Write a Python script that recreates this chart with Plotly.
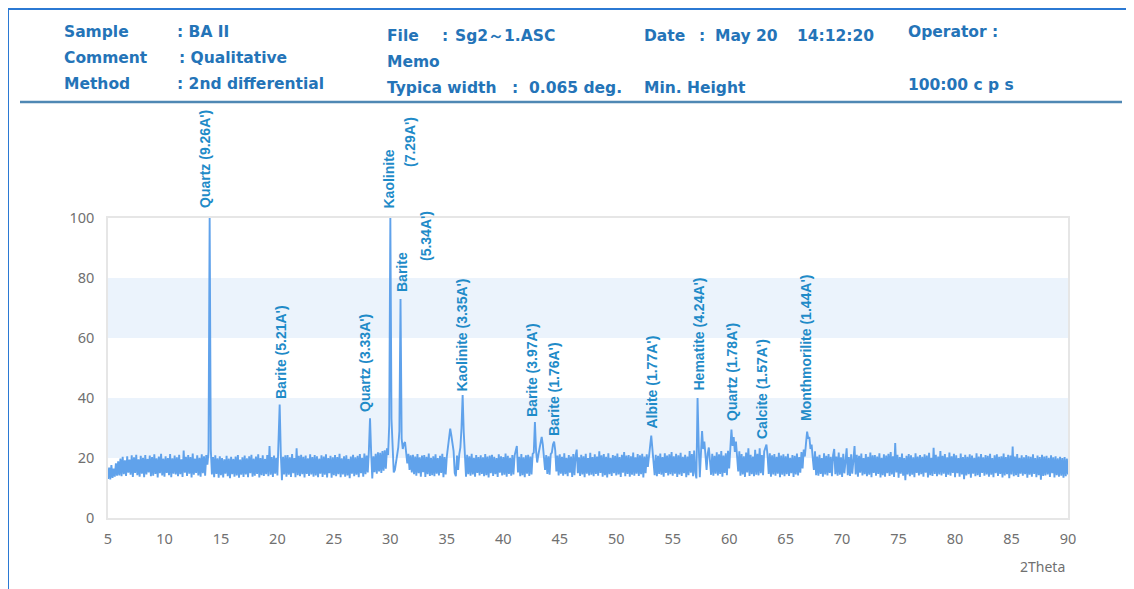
import plotly.graph_objects as go

# ---------------- data ----------------
two_theta_start = 5.0
two_theta_step = 0.1

intensity = [
    # 5
    13.0, 16.8, 12.9, 17.6, 13.4, 16.5, 13.8, 18.2, 14.1, 18.9,
    # 6
    14.2, 19.8, 13.9, 20.4, 14.6, 19.2, 14.0, 20.6, 15.1, 19.5,
    # 7
    14.4, 20.9, 13.7, 20.2, 15.0, 21.1, 14.3, 19.6, 13.8, 20.7,
    # 8
    14.8, 20.1, 13.6, 21.0, 14.5, 19.7, 15.2, 20.8, 13.9, 20.3,
    # 9
    14.1, 21.2, 14.7, 19.9, 13.5, 20.5, 14.9, 21.4, 14.2, 19.8,
    # 10
    13.8, 20.6, 15.0, 20.0, 14.3, 21.3, 13.6, 19.9, 14.8, 20.8,
    # 11
    14.5, 20.2, 13.9, 21.1, 14.6, 19.6, 13.7, 22.5, 15.1, 20.4,
    # 12
    14.0, 21.0, 14.8, 20.3, 13.5, 21.5, 14.4, 19.8, 15.0, 20.9,
    # 13
    14.2, 20.1, 13.8, 21.2, 14.9, 20.6, 14.1, 21.0, 17.8, 22.0,
    # 14
    100.0, 23.0, 14.5, 20.3, 13.6, 20.9, 14.7, 19.9, 13.4, 20.6,
    # 15
    14.3, 20.0, 13.5, 19.6, 14.8, 20.7, 13.9, 19.8, 13.3, 20.4,
    # 16
    14.6, 19.7, 13.8, 20.5, 14.2, 21.0, 13.4, 19.5, 14.4, 20.2,
    # 17
    13.7, 20.8, 14.5, 19.9, 13.6, 20.6, 14.9, 21.1, 13.8, 19.8,
    # 18
    14.1, 20.5, 14.7, 21.2, 13.5, 20.0, 14.3, 20.9, 14.0, 19.7,
    # 19
    14.6, 21.0, 13.9, 24.0, 14.4, 20.3, 13.7, 20.8, 14.8, 20.1,
    # 20
    14.2, 24.5, 37.8, 21.5, 12.6, 20.4, 14.5, 20.9, 13.8, 21.0,
    # 21
    14.4, 20.2, 13.7, 21.3, 14.9, 20.0, 13.6, 23.2, 14.3, 20.7,
    # 22
    13.9, 21.1, 14.6, 20.4, 13.5, 20.8, 14.7, 19.9, 14.0, 21.2,
    # 23
    14.5, 20.3, 13.8, 21.0, 14.2, 20.6, 13.6, 19.8, 14.8, 20.9,
    # 24
    13.7, 20.5, 14.4, 21.2, 13.5, 20.0, 14.9, 20.7, 13.4, 20.2,
    # 25
    14.3, 21.0, 13.9, 20.3, 14.6, 21.4, 13.6, 19.9, 14.5, 20.6,
    # 26
    13.8, 20.9, 14.2, 19.7, 13.3, 20.5, 14.8, 21.1, 13.9, 20.2,
    # 27
    14.4, 20.7, 13.6, 21.3, 14.9, 20.1, 13.8, 21.5, 14.6, 20.8,
    # 28
    15.2, 22.5, 33.2, 21.8, 13.2, 20.6, 15.3, 21.4, 14.8, 21.9,
    # 29
    15.5, 21.7, 15.0, 22.3, 15.8, 22.6, 16.4, 23.2, 21.0, 31.0,
    # 30
    100.0, 33.0, 22.5, 15.2, 16.0, 19.5, 21.0, 23.5, 29.0, 73.0,
    # 31
    26.5, 23.0, 24.8, 25.3, 21.5, 18.2, 21.4, 16.0, 20.9, 15.2,
    # 32
    21.1, 14.6, 20.5, 14.1, 21.3, 14.9, 20.2, 13.8, 20.8, 15.3,
    # 33
    21.0, 13.7, 20.4, 14.6, 21.5, 14.0, 20.1, 14.3, 20.6, 13.9,
    # 34
    21.2, 14.8, 20.0, 14.2, 20.7, 15.0, 21.4, 13.6, 20.3, 14.5,
    # 35
    20.5, 23.2, 26.8, 29.8, 27.5, 25.2, 22.3, 15.0, 13.9, 20.8,
    # 36
    16.0, 21.2, 23.5, 30.0, 41.0, 28.5, 19.0, 13.8, 21.1, 14.6,
    # 37
    20.6, 14.1, 21.4, 14.5, 20.1, 13.8, 21.0, 15.0, 20.3, 14.2,
    # 38
    20.9, 14.7, 20.2, 13.9, 21.3, 14.3, 20.5, 13.5, 20.8, 14.9,
    # 39
    21.1, 14.0, 20.4, 14.6, 20.0, 13.7, 21.2, 15.1, 20.6, 14.2,
    # 40
    20.3, 14.4, 21.5, 13.8, 20.7, 14.7, 20.1, 14.1, 21.0, 14.5,
    # 41
    20.8, 23.0, 24.0, 15.2, 20.4, 13.9, 21.3, 14.3, 20.2, 13.6,
    # 42
    20.9, 14.8, 21.1, 14.0, 20.5, 14.5, 21.4, 21.8, 32.0, 22.5,
    # 43
    18.5, 21.0, 23.5, 26.0, 27.0, 24.5, 21.2, 16.0, 21.0, 14.7,
    # 44
    20.6, 14.4, 21.3, 21.8, 24.5, 25.5, 22.5, 15.5, 20.8, 14.2,
    # 45
    21.2, 14.8, 20.4, 14.1, 21.6, 14.6, 20.1, 13.9, 21.0, 15.1,
    # 46
    20.5, 13.7, 21.3, 14.3, 20.8, 22.8, 14.9, 20.2, 14.0, 21.1,
    # 47
    14.5, 20.6, 13.6, 21.4, 14.8, 20.0, 14.2, 21.7, 14.4, 20.3,
    # 48
    13.9, 21.2, 14.7, 20.5, 14.1, 22.2, 15.0, 20.9, 13.8, 21.3,
    # 49
    14.3, 20.4, 13.5, 21.6, 14.6, 20.1, 14.0, 21.0, 14.9, 20.7,
    # 50
    14.2, 21.5, 14.5, 20.3, 13.7, 21.1, 15.1, 22.0, 13.9, 20.8,
    # 51
    14.7, 21.0, 13.8, 20.6, 14.4, 21.8, 14.1, 20.2, 14.8, 21.3,
    # 52
    14.0, 20.9, 14.6, 21.4, 13.5, 20.5, 14.9, 21.2, 17.0, 21.5,
    # 53
    24.0, 27.5, 23.0, 17.0, 14.3, 21.1, 13.9, 20.7, 14.7, 21.5,
    # 54
    14.4, 20.3, 13.8, 21.6, 15.0, 20.8, 14.2, 21.2, 14.6, 22.0,
    # 55
    14.1, 20.6, 14.8, 21.4, 13.7, 20.9, 14.5, 21.7, 14.0, 20.4,
    # 56
    14.9, 21.1, 13.6, 20.5, 14.3, 22.3, 15.1, 21.3, 13.9, 22.5,
    # 57
    15.0, 13.2, 40.0, 24.5, 13.6, 21.5, 29.0, 23.0, 25.5, 21.0,
    # 58
    16.0, 21.5, 23.5, 19.0, 14.4, 21.4, 14.1, 20.7, 14.8, 21.9,
    # 59
    14.2, 21.2, 14.7, 22.3, 13.8, 20.8, 15.0, 21.6, 14.3, 22.4,
    # 60
    16.5, 23.0, 29.5, 24.0, 27.0, 22.0, 25.5, 20.5, 15.5, 22.2,
    # 61
    14.1, 21.3, 14.5, 20.6, 13.7, 21.8, 15.2, 23.2, 14.0, 21.1,
    # 62
    14.6, 20.5, 13.9, 22.7, 14.4, 21.4, 14.2, 23.2, 14.9, 21.0,
    # 63
    14.3, 22.2, 23.8, 24.5, 20.8, 14.7, 21.6, 13.8, 20.9, 14.5,
    # 64
    21.3, 14.1, 20.4, 14.8, 21.7, 13.6, 20.8, 14.4, 21.2, 13.9,
    # 65
    20.6, 14.6, 21.4, 14.0, 20.1, 14.9, 21.0, 13.7, 20.7, 14.5,
    # 66
    21.5, 14.2, 20.3, 15.1, 22.0, 16.5, 22.8, 20.5, 24.8, 28.8,
    # 67
    26.5, 27.0, 23.0, 24.5, 20.0, 16.0, 22.2, 14.3, 20.5, 14.1,
    # 68
    21.1, 14.7, 20.0, 13.8, 21.6, 14.5, 20.7, 14.2, 21.3, 15.0,
    # 69
    20.4, 13.9, 21.0, 23.0, 14.6, 20.5, 14.1, 21.8, 14.4, 20.2,
    # 70
    13.7, 21.4, 14.9, 20.8, 23.2, 14.3, 20.3, 14.0, 21.2, 14.8,
    # 71
    20.6, 24.0, 14.5, 21.1, 13.8, 20.7, 15.1, 21.5, 14.2, 20.0,
    # 72
    14.6, 21.3, 13.9, 20.4, 14.4, 21.8, 13.6, 20.9, 15.0, 21.0,
    # 73
    14.1, 20.5, 14.7, 21.6, 13.5, 20.1, 14.3, 21.2, 13.8, 20.8,
    # 74
    14.9, 21.4, 14.0, 22.0, 14.5, 20.6, 13.7, 25.0, 15.2, 21.1,
    # 75
    13.4, 20.3, 14.8, 21.5, 14.1, 20.0, 12.6, 20.7, 14.5, 21.3,
    # 76
    13.9, 20.9, 14.4, 20.2, 13.6, 21.6, 15.0, 20.5, 14.2, 21.0,
    # 77
    14.6, 20.4, 13.8, 21.2, 15.1, 20.8, 13.5, 21.7, 14.3, 20.1,
    # 78
    14.0, 23.4, 14.7, 21.1, 13.9, 20.5, 14.5, 22.3, 14.2, 20.7,
    # 79
    14.8, 21.3, 13.7, 20.2, 14.4, 21.8, 14.1, 20.6, 15.0, 21.4,
    # 80
    13.6, 20.9, 14.9, 20.0, 13.8, 21.5, 14.5, 20.3, 12.9, 21.1,
    # 81
    14.2, 20.4, 14.6, 21.2, 13.4, 20.8, 14.8, 20.1, 13.9, 21.6,
    # 82
    14.3, 20.5, 13.7, 21.3, 15.0, 20.2, 14.1, 21.0, 14.5, 20.7,
    # 83
    13.8, 21.4, 14.4, 20.0, 13.6, 20.9, 14.9, 21.2, 14.0, 20.4,
    # 84
    14.7, 20.6, 13.5, 21.5, 14.2, 20.3, 14.6, 21.1, 13.3, 20.8,
    # 85
    14.5, 23.8, 13.9, 20.5, 14.3, 21.3, 13.7, 20.1, 14.8, 20.9,
    # 86
    14.1, 20.2, 14.6, 21.0, 13.4, 20.6, 14.4, 20.4, 13.8, 21.2,
    # 87
    14.7, 20.0, 13.6, 20.8, 14.3, 20.3, 12.8, 21.1, 14.0, 20.5,
    # 88
    14.2, 20.7, 14.5, 20.1, 13.7, 20.9, 14.9, 20.2, 13.5, 20.6,
    # 89
    14.3, 19.9, 13.8, 20.4, 14.1, 20.0, 13.4, 20.3, 13.9, 19.8,
    # 90
    14.5,
]
two_theta = [round(two_theta_start + i * two_theta_step, 1) for i in range(len(intensity))]

x_ticks = [5, 10, 15, 20, 25, 30, 35, 40, 45, 50, 55, 60, 65, 70, 75, 80, 85, 90]
y_ticks = [0, 20, 40, 60, 80, 100]

peak_labels = [
    "Quartz (9.26A')", "Kaolinite", "(7.29A')", "Barite", "(5.34A')",
    "Barite (5.21A')", "Quartz (3.33A')", "Kaolinite (3.35A')",
    "Barite (3.97A')", "Barite (1.76A')", "Albite (1.77A')",
    "Hematite (4.24A')", "Quartz (1.78A')", "Calcite (1.57A')",
    "Monthmorilite (1.44A')",
]
# label anchor (centre x, bottom y) in screen pixels
label_px = [
    (205, 209), (388, 210), (410, 168), (402, 293), (426, 262),
    (281, 400), (365, 413), (461, 393),
    (532, 418), (554, 437), (651, 430),
    (698, 392), (732, 422), (762, 440),
    (806, 422),
]

header_items = [
    ("Sample", 62, 32), (": BA II", 175, 32),
    ("Comment", 62, 58), (": Qualitative", 177, 58),
    ("Method", 62, 84), (": 2nd differential", 175, 84),
    ("File", 385, 36), (":", 440, 36), ("Sg2～1.ASC", 453, 36),
    ("Memo", 385, 62),
    ("Typica width", 385, 88), (":", 510, 88), ("0.065 deg.", 527, 88),
    ("Date", 642, 36), (":", 697, 36), ("May 20", 713, 36), ("14:12:20", 795, 36),
    ("Min. Height", 642, 88),
    ("Operator :", 906, 32),
    ("100:00 c p s", 906, 85),
]

# ---------------- layout helpers ----------------
W, H = 1134, 589
OFF = 8                      # page body margin
L, R, T, B = 108, 1068, 218, 518   # plot area in screen pixels


def px_x(X):
    return (X - L) / (R - L)


def px_y(Y):
    return (B - Y) / (B - T)


fig = go.Figure()
fig.add_trace(go.Scatter(
    x=two_theta, y=intensity, mode="lines",
    line=dict(color="#60a2eb", width=1.9),
    hoverinfo="skip", showlegend=False,
))

shapes = []
for y0, y1 in [(20, 40), (60, 80)]:
    shapes.append(dict(type="rect", xref="x", yref="y", x0=5, x1=90, y0=y0, y1=y1,
                       fillcolor="#ebf3fc", line=dict(width=0), layer="below"))
# outer frame
shapes.append(dict(type="line", xref="paper", yref="paper",
                   x0=px_x(8), x1=px_x(W + 20), y0=px_y(9), y1=px_y(9),
                   line=dict(color="#2b79d3", width=2)))
shapes.append(dict(type="line", xref="paper", yref="paper",
                   x0=px_x(8), x1=px_x(8), y0=px_y(9), y1=px_y(H + 20),
                   line=dict(color="#2b79d3", width=2)))
# header separator
shapes.append(dict(type="line", xref="paper", yref="paper",
                   x0=px_x(20), x1=px_x(1122), y0=px_y(102), y1=px_y(102),
                   line=dict(color="#4f88b4", width=2.5)))

annotations = []
for text, X, Y in header_items:
    annotations.append(dict(
        text="<b>%s</b>" % text, xref="paper", yref="paper",
        x=px_x(X), y=px_y(Y), xanchor="left", yanchor="middle", showarrow=False,
        font=dict(family="DejaVu Sans", size=15.5, color="#2474b8"),
    ))
for text, (X, Y) in zip(peak_labels, label_px):
    annotations.append(dict(
        text="<b>%s</b>" % text, xref="paper", yref="paper",
        x=px_x(X), y=px_y(Y), xanchor="center", yanchor="bottom",
        textangle=-90, showarrow=False, borderpad=0,
        font=dict(family="Liberation Sans", size=14, color="#1f8bc8"),
    ))
annotations.append(dict(
    text="2Theta", xref="paper", yref="paper", x=px_x(1067), y=px_y(566),
    xanchor="right", yanchor="middle", showarrow=False,
    font=dict(family="Noto Sans", size=14, color="#707070"),
))

fig.update_layout(
    width=W, height=H,
    margin=dict(l=L - OFF, r=W - R + OFF, t=T - OFF, b=H - B + OFF, pad=0),
    paper_bgcolor="white", plot_bgcolor="white",
    shapes=shapes, annotations=annotations,
    xaxis=dict(range=[5, 90], tickmode="array", tickvals=x_ticks,
               showgrid=False, zeroline=False, showline=True, mirror=True,
               linecolor="#e6e6e6", linewidth=1.5,
               ticks="outside", ticklen=7, tickcolor="rgba(0,0,0,0)",
               tickfont=dict(family="Noto Sans", size=14.5, color="#707070")),
    yaxis=dict(range=[0, 100], tickmode="array", tickvals=y_ticks,
               showgrid=False, zeroline=False, showline=True, mirror=True,
               linecolor="#e6e6e6", linewidth=1.5,
               ticks="outside", ticklen=9, tickcolor="rgba(0,0,0,0)",
               tickfont=dict(family="Noto Sans", size=14.5, color="#707070")),
)

fig.write_html("out.html")
